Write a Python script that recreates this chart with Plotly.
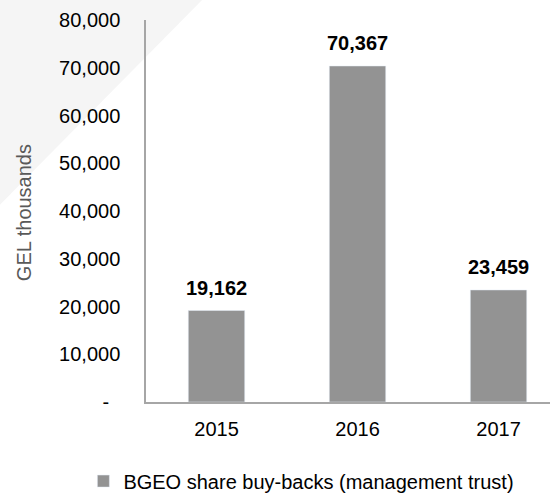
import plotly.graph_objects as go

# data
years = ["2015", "2016", "2017"]
buybacks = [19162, 70367, 23459]
series_name = "BGEO share buy-backs (management trust)"
y_ticks = [0, 10000, 20000, 30000, 40000, 50000, 60000, 70000, 80000]
y_tick_labels = ["-\u00a0\u00a0", "10,000", "20,000", "30,000", "40,000", "50,000",
                 "60,000", "70,000", "80,000"]

FONT = "Liberation Sans, Arial, sans-serif"
BAR = "#939393"

fig = go.Figure()
fig.add_trace(go.Bar(x=years, y=buybacks, name=series_name, marker_color=BAR,
                     width=0.4, showlegend=True, hoverinfo="skip"))

# bold value labels above bars
for i, v in enumerate(buybacks):
    fig.add_annotation(x=i, y=v, text="<b>{:,}</b>".format(v), showarrow=False,
                       yanchor="bottom", yshift=10,
                       font=dict(family=FONT, size=20, color="#000000"))

# faint triangle in the top-left corner
fig.add_shape(type="path", xref="paper", yref="paper", layer="below",
              path="M -0.362 1.06 L 0.146 1.06 L -0.362 0.516 Z",
              fillcolor="#f5f5f5", line=dict(width=0))

fig.add_annotation(text="GEL thousands", xref="paper", yref="paper", x=-0.302, y=0.497,
                   xanchor="center", yanchor="middle", textangle=-90, showarrow=False,
                   font=dict(family=FONT, size=20, color="#595959"))

fig.update_layout(
    width=552, height=493,
    margin=dict(l=146, r=2, t=20, b=91, autoexpand=False),
    paper_bgcolor="white", plot_bgcolor="rgba(0,0,0,0)",
    font=dict(family=FONT, size=20, color="#000000"),
    showlegend=True,
    legend=dict(orientation="h", x=-0.155, xanchor="left", y=-0.207, yanchor="middle",
                font=dict(family=FONT, size=20, color="#000000"),
                itemwidth=30, bgcolor="rgba(0,0,0,0)"),
    xaxis=dict(type="category", range=[-0.5, 2.365], showline=True, linecolor="#a6a6a6",
               linewidth=1.5, ticks="", showgrid=False, zeroline=False,
               ticklabelstandoff=8, automargin=False),
    yaxis=dict(range=[0, 80000], tickvals=y_ticks, ticktext=y_tick_labels,
               showline=True, linecolor="#a6a6a6", linewidth=1.5,
               ticks="", showgrid=False, zeroline=False, ticklabelstandoff=20,
               automargin=False),
)

# drop the browser's default page margin so the figure sits at 0,0
fig.write_html("out.html", config={"displayModeBar": False},
               post_script="document.body.style.margin='0';")
